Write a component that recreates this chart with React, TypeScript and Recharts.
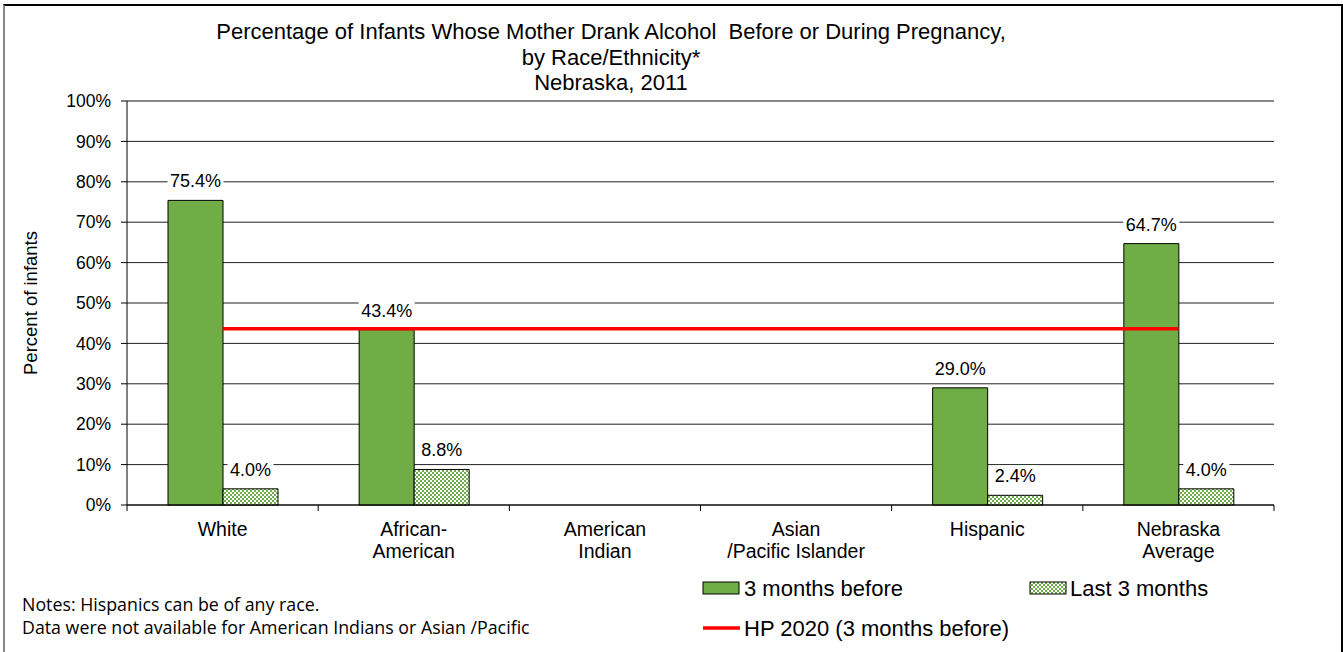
import React from "react";
import {
  ComposedChart,
  Bar,
  Line,
  XAxis,
  YAxis,
  CartesianGrid,
  Legend,
  LabelList,
  ReferenceLine,
} from "recharts";

const categories = [
  "White",
  "African-\nAmerican",
  "American\nIndian",
  "Asian\n/Pacific Islander",
  "Hispanic",
  "Nebraska\nAverage",
];
const threeMonthsBefore: (number | null)[] = [75.4, 43.4, null, null, 29.0, 64.7];
const lastThreeMonths: (number | null)[] = [4.0, 8.8, null, null, 2.4, 4.0];
const hp2020: number[] = [43.6, 43.6, 43.6, 43.6, 43.6, 43.6];
const yTicks = [0, 10, 20, 30, 40, 50, 60, 70, 80, 90, 100];
const seriesNames = ["3 months before", "Last 3 months", "HP 2020 (3 months before)"];
const titleLines = [
  "Percentage of Infants Whose Mother Drank Alcohol  Before or During Pregnancy,",
  "by Race/Ethnicity*",
  "Nebraska, 2011",
];
const notes = [
  "Notes: Hispanics can be of any race.",
  "Data were not available for American Indians or Asian /Pacific",
];

const data = categories.map((c, i) => ({
  name: c,
  before: threeMonthsBefore[i],
  last: lastThreeMonths[i],
  hp: hp2020[i],
}));

const W = 1343;
const H = 652;
const PLOT_LEFT = 127;
const PLOT_RIGHT = 1274;
const PLOT_TOP = 101;
const PLOT_BOTTOM = 505;
const PLOT_W = PLOT_RIGHT - PLOT_LEFT;
const GREEN = "#70AD47";
const FONT = "'Liberation Sans', Arial, sans-serif";
const NOTE_FONT = "'Open Sans', 'Noto Sans', sans-serif";

const XTick = (props: any) => {
  const { x, y, payload, index } = props;
  const lines = String(payload.value).split("\n");
  const band = PLOT_W / categories.length;
  return (
    <g>
      <line x1={x - band / 2} x2={x - band / 2} y1={y} y2={y + 6} stroke="#000" />
      {index === categories.length - 1 && (
        <line x1={x + band / 2} x2={x + band / 2} y1={y} y2={y + 6} stroke="#000" />
      )}
      <text x={x} y={y} textAnchor="middle" fontSize={19.5} fontFamily={FONT} fill="#000">
        {lines.map((l, i) => (
          <tspan key={i} x={x} dy={i === 0 ? 31 : 22}>
            {l}
          </tspan>
        ))}
      </text>
    </g>
  );
};

const BarLabel = (props: any) => {
  const { x, y, width, value } = props;
  if (value === null || value === undefined) return null;
  const cx = Number(x) + Number(width) / 2;
  const cy = Number(y) - 19;
  const txt = Number(value).toFixed(1) + "%";
  const bw = txt.length * 10 + 6;
  return (
    <g>
      <rect x={cx - bw / 2} y={cy - 11} width={bw} height={22} fill="#fff" />
      <text
        x={cx}
        y={cy}
        textAnchor="middle"
        dominantBaseline="central"
        fontSize={18}
        fontFamily={FONT}
        fill="#000"
      >
        {txt}
      </text>
    </g>
  );
};

const LegendContent = () => (
  <svg width={560} height={70} style={{ overflow: "visible" }}>
    <rect x={0} y={6} width={36} height={12} fill={GREEN} stroke="#000" strokeWidth={1} />
    <text x={41} y={12} dominantBaseline="central" fontSize={22} fontFamily={FONT} fill="#000">
      {seriesNames[0]}
    </text>
    <rect x={327} y={6} width={36} height={12} fill="url(#checker)" stroke="#000" strokeWidth={1} />
    <text x={367} y={12} dominantBaseline="central" fontSize={22} fontFamily={FONT} fill="#000">
      {seriesNames[1]}
    </text>
    <line x1={0} x2={37} y1={52} y2={52} stroke="#FF0000" strokeWidth={3.5} />
    <text x={41} y={52} dominantBaseline="central" fontSize={22} fontFamily={FONT} fill="#000">
      {seriesNames[2]}
    </text>
  </svg>
);

export default function App() {
  return (
    <div style={{ position: "absolute", left: 0, top: 0, width: W, height: H, overflow: "hidden", background: "#fff" }}>
      <svg width={0} height={0} style={{ position: "absolute" }}>
        <defs>
          <pattern id="checker" x={0} y={0} width={4} height={4} patternUnits="userSpaceOnUse">
            <rect x={0} y={0} width={4} height={4} fill="#fff" />
            <rect x={0} y={0} width={2} height={2} fill={GREEN} />
            <rect x={2} y={2} width={2} height={2} fill={GREEN} />
          </pattern>
        </defs>
      </svg>
      <div
        style={{
          position: "absolute",
          left: 3,
          top: 4,
          width: 1336,
          height: 700,
          borderTop: "2px solid #000",
          borderLeft: "2px solid #888",
          borderRight: "2px solid #000",
        }}
      />
      <div style={{ position: "absolute", left: 0, top: 0 }}>
        <ComposedChart
          width={W}
          height={H}
          data={data}
          margin={{ top: PLOT_TOP, right: W - PLOT_RIGHT, bottom: H - PLOT_BOTTOM - 60, left: PLOT_LEFT - 100 }}
          barGap={0}
          barCategoryGap={0}
        >
          <CartesianGrid horizontal vertical={false} stroke="#222" />
          <XAxis
            dataKey="name"
            interval={0}
            tickLine={false}
            tickSize={0}
            tickMargin={0}
            height={60}
            axisLine={{ stroke: "#000" }}
            tick={<XTick />}
          />
          <YAxis
            domain={[0, 100]}
            ticks={yTicks}
            width={100}
            tickSize={6}
            tickMargin={10}
            tickLine={{ stroke: "#000" }}
            axisLine={{ stroke: "#000" }}
            tickFormatter={(v: number) => `${v}%`}
            tick={{ fontSize: 17.5, fontFamily: FONT, fill: "#000" }}
            interval={0}
          />
          <YAxis
            yAxisId="right"
            orientation="right"
            width={0}
            domain={[0, 100]}
            tick={false}
            tickLine={false}
            axisLine={{ stroke: "#888", strokeWidth: 2 }}
          />
          <ReferenceLine y={100} stroke="#888" strokeWidth={2} />
          <Bar dataKey="before" name={seriesNames[0]} fill={GREEN} stroke="#000" strokeWidth={1} barSize={55} isAnimationActive={false}>
            <LabelList dataKey="before" content={<BarLabel />} />
          </Bar>
          <Bar dataKey="last" name={seriesNames[1]} fill="url(#checker)" stroke="#000" strokeWidth={1} barSize={55} isAnimationActive={false}>
            <LabelList dataKey="last" content={<BarLabel />} />
          </Bar>
          <Line
            dataKey="hp"
            name={seriesNames[2]}
            stroke="#FF0000"
            strokeWidth={3.5}
            dot={false}
            activeDot={false}
            isAnimationActive={false}
          />
          <Legend
            layout="vertical"
            align="center"
            verticalAlign="middle"
            content={<LegendContent />}
            wrapperStyle={{ left: 703, top: 576, width: 560, height: 70 }}
          />
        </ComposedChart>
      </div>
      <svg width={W} height={H} style={{ position: "absolute", left: 0, top: 0, pointerEvents: "none" }}>
        {titleLines.map((t, i) => (
          <text key={i} x={611} y={39 + i * 25.5} textAnchor="middle" fontSize={22} fontFamily={FONT} fill="#000" style={{ whiteSpace: "pre" }}>
            {t}
          </text>
        ))}
        <text
          x={30}
          y={303}
          transform="rotate(-90 30 303)"
          textAnchor="middle"
          dominantBaseline="central"
          fontSize={18.5}
          fontFamily={FONT}
          fill="#000"
        >
          Percent of infants
        </text>
        {notes.map((t, i) => (
          <text key={i} x={22} y={611 + i * 23} fontSize={17.8} fontFamily={NOTE_FONT} fill="#000">
            {t}
          </text>
        ))}
      </svg>
    </div>
  );
}
